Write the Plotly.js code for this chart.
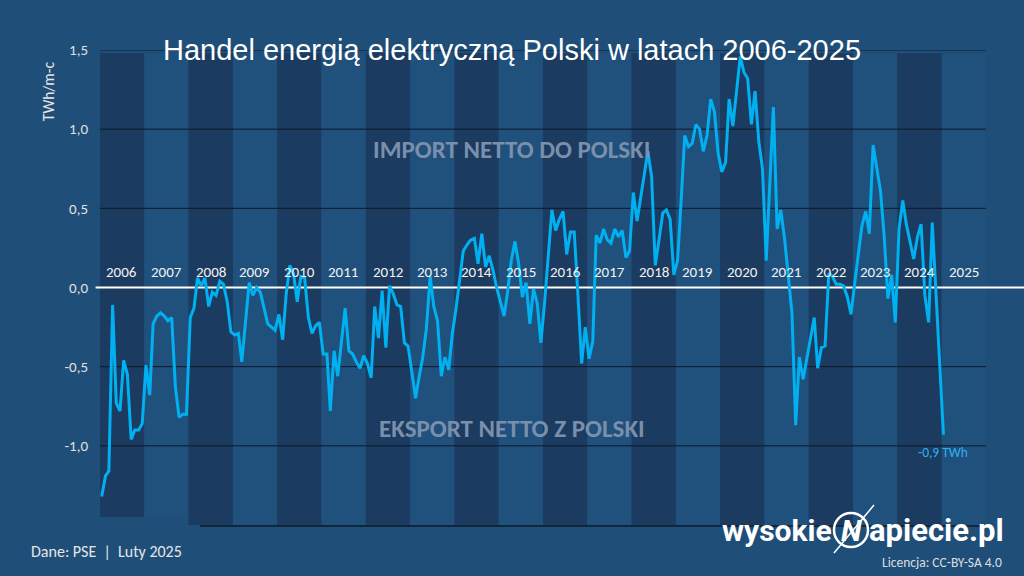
<!DOCTYPE html>
<html>
<head>
<meta charset="utf-8">
<script src="https://cdn.plot.ly/plotly-3.0.1.min.js"></script>
<style>
  html, body { margin: 0; padding: 0; background: #1f4e79; }
  #chart { width: 1024px; height: 576px; }
</style>
</head>
<body>
<div id="chart"></div>
<script>
// Monthly net electricity trade of Poland, TWh per month (Jan 2006 .. Jan 2025)
const net2006 = [-1.32, -1.19, -1.16, -0.11, -0.73, -0.78, -0.46, -0.55, -0.96, -0.90, -0.90, -0.86];
const net2007 = [-0.49, -0.68, -0.23, -0.18, -0.16, -0.18, -0.21, -0.19, -0.63, -0.82, -0.80, -0.80];
const net2008 = [-0.19, -0.13, 0.06, 0.01, 0.06, -0.12, -0.03, -0.05, 0.04, 0.02, -0.09, -0.28];
const net2009 = [-0.30, -0.29, -0.47, -0.20, 0.03, -0.05, 0.00, -0.03, -0.14, -0.23, -0.25, -0.27];
const net2010 = [-0.17, -0.33, -0.05, 0.14, 0.09, -0.09, 0.07, 0.06, -0.19, -0.29, -0.24, -0.22];
const net2011 = [-0.42, -0.42, -0.78, -0.40, -0.56, -0.34, -0.13, -0.40, -0.42, -0.47, -0.51, -0.43];
const net2012 = [-0.48, -0.57, -0.12, -0.32, -0.02, -0.38, 0.01, -0.04, -0.11, -0.12, -0.35, -0.37];
const net2013 = [-0.54, -0.70, -0.57, -0.44, -0.26, 0.07, -0.12, -0.21, -0.56, -0.44, -0.52, -0.29];
const net2014 = [-0.13, 0.08, 0.23, 0.27, 0.30, 0.31, 0.15, 0.34, 0.13, 0.20, 0.11, 0.00];
const net2015 = [-0.10, -0.18, -0.03, 0.17, 0.29, 0.15, -0.06, 0.03, -0.23, -0.01, -0.10, -0.35];
const net2016 = [-0.09, 0.20, 0.49, 0.36, 0.43, 0.48, 0.21, 0.35, 0.35, -0.04, -0.48, -0.25];
const net2017 = [-0.45, -0.34, 0.33, 0.28, 0.37, 0.30, 0.28, 0.37, 0.32, 0.36, 0.19, 0.23];
const net2018 = [0.60, 0.42, 0.55, 0.71, 0.86, 0.70, 0.14, 0.30, 0.47, 0.49, 0.43, 0.08];
const net2019 = [0.17, 0.57, 0.96, 0.89, 0.91, 1.03, 1.00, 0.86, 0.96, 1.19, 1.11, 0.85];
const net2020 = [0.73, 0.79, 1.19, 1.02, 1.24, 1.46, 1.36, 1.32, 1.03, 1.24, 0.92, 0.75];
const net2021 = [0.17, 0.65, 1.14, 0.37, 0.49, 0.31, 0.08, -0.16, -0.87, -0.44, -0.58, -0.45];
const net2022 = [-0.30, -0.19, -0.51, -0.38, -0.37, 0.09, 0.07, 0.02, 0.02, 0.01, -0.06, -0.17];
const net2023 = [0.03, 0.23, 0.39, 0.48, 0.34, 0.90, 0.76, 0.61, 0.32, -0.07, 0.08, -0.22];
const net2024 = [0.37, 0.55, 0.40, 0.28, 0.18, 0.32, 0.40, -0.05, -0.22, 0.41, -0.05, -0.50];
const net2025 = [-0.93];

const years = ['2006','2007','2008','2009','2010','2011','2012','2013','2014','2015',
               '2016','2017','2018','2019','2020','2021','2022','2023','2024','2025'];
const yTickVals = [1.5, 1.0, 0.5, 0.0, -0.5, -1.0];
const yTickText = ['1,5', '1,0', '0,5', '0,0', '-0,5', '-1,0'];
const gridVals = [1.5, 1.0, 0.5, -0.5, -1.0];
const lastLabel = '-0,9 TWh';

const perYear = [net2006, net2007, net2008, net2009, net2010, net2011, net2012, net2013, net2014, net2015,
                 net2016, net2017, net2018, net2019, net2020, net2021, net2022, net2023, net2024, net2025];

const xs = [], ys = [];
perYear.forEach((arr, yi) => {
  arr.forEach((v, m) => {
    const mm = String(m + 1).padStart(2, '0');
    xs.push(years[yi] + '-' + mm + '-15');
    ys.push(v);
  });
});

const X0 = years[0] + '-01-01';
const X1 = (parseInt(years[years.length - 1]) + 1) + '-01-01';
const FONT = 'Carlito, Lato, "Open Sans", sans-serif';
const shapes = [];
const annotations = [];

// year bands
years.forEach((y, i) => {
  shapes.push({
    type: 'rect', layer: 'below', xref: 'x', yref: 'y',
    x0: y + '-01-01', x1: (parseInt(y) + 1) + '-01-01',
    y0: i < 2 ? -1.45 : -1.5, y1: 1.48,
    fillcolor: i % 2 === 0 ? '#1b3b60' : '#20507c', line: { width: 0 }
  });
  annotations.push({
    xref: 'x', yref: 'y', x: y + '-07-01', y: 0.095,
    text: y, showarrow: false,
    font: { family: FONT, size: 15, color: '#f2f2f2' }
  });
});

// gridlines (same layer as the bands, drawn after them)
gridVals.forEach(g => {
  shapes.push({
    type: 'line', layer: 'below', xref: 'x', yref: 'y',
    x0: X0, x1: X1, y0: g, y1: g,
    line: { color: '#0d1a2a', width: 1 }
  });
});
// bottom gridline (partial), on the lower edge of the plot
shapes.push({
  type: 'line', layer: 'above', xref: 'paper', yref: 'paper',
  x0: 0.113, x1: 1, y0: -0.002, y1: -0.002,
  line: { color: '#0d1a2a', width: 1.5 }
});
// zero line: inside plot + outside parts
shapes.push({
  type: 'line', layer: 'below', xref: 'x', yref: 'y',
  x0: X0, x1: X1, y0: 0, y1: 0,
  line: { color: '#ffffff', width: 2 }
});
shapes.push({
  type: 'line', layer: 'below', xref: 'paper', yref: 'y',
  x0: -0.005, x1: 0, y0: 0, y1: 0,
  line: { color: '#ffffff', width: 2 }
});
shapes.push({
  type: 'line', layer: 'below', xref: 'paper', yref: 'y',
  x0: 1, x1: 1.05, y0: 0, y1: 0,
  line: { color: '#ffffff', width: 2 }
});

// logo circle + bolt
shapes.push({
  type: 'circle', xref: 'paper', yref: 'paper',
  x0: (834 - 100) / 886, x1: (868 - 100) / 886,
  y0: (525 - 547) / 475, y1: (525 - 513) / 475,
  line: { color: '#ffffff', width: 2.5 }
});
shapes.push({
  type: 'line', xref: 'paper', yref: 'paper',
  x0: (874 - 100) / 886, x1: (834 - 100) / 886,
  y0: (525 - 505) / 475, y1: (525 - 553) / 475,
  line: { color: '#ffffff', width: 1.5 }
});

annotations.push(
  { xref: 'paper', yref: 'y', x: 0.465, y: 0.87, text: 'IMPORT NETTO DO POLSKI', showarrow: false,
    font: { family: FONT, size: 25, color: '#7a8fab', weight: 'bold' } },
  { xref: 'paper', yref: 'y', x: 0.465, y: -0.89, text: 'EKSPORT NETTO Z POLSKI', showarrow: false,
    font: { family: FONT, size: 25, color: '#7a8fab', weight: 'bold' } },
  { xref: 'x', yref: 'y', x: xs[xs.length - 1], y: -1.04, text: lastLabel, showarrow: false,
    font: { family: FONT, size: 13.5, color: '#2fb2ee' } },
  { xref: 'paper', yref: 'y', x: (48 - 100) / 886, y: 1.24, text: 'TWh/m-c', textangle: -90, showarrow: false,
    xanchor: 'center', yanchor: 'middle',
    font: { family: FONT, size: 15.5, color: '#e6e6e6' } },
  { xref: 'paper', yref: 'paper', x: (29 - 100) / 886, y: (525 - 551) / 475, xanchor: 'left', yanchor: 'middle',
    text: 'Dane: PSE  |  Luty 2025', showarrow: false,
    font: { family: FONT, size: 16, color: '#e6e6e6' } },
  { xref: 'paper', yref: 'paper', x: (834 - 100) / 886, y: (525 - 530) / 475, xanchor: 'right', yanchor: 'middle',
    text: 'wysokie', showarrow: false,
    font: { family: 'Roboto, sans-serif', size: 30, color: '#ffffff', weight: 'bold' } },
  { xref: 'paper', yref: 'paper', x: (851 - 100) / 886, y: (525 - 530) / 475, xanchor: 'center', yanchor: 'middle',
    text: '<i>N</i>', showarrow: false,
    font: { family: 'Roboto, sans-serif', size: 30, color: '#ffffff', weight: 'bold' } },
  { xref: 'paper', yref: 'paper', x: (867 - 100) / 886, y: (525 - 530) / 475, xanchor: 'left', yanchor: 'middle',
    text: 'apiecie.pl', showarrow: false,
    font: { family: 'Roboto, sans-serif', size: 31, color: '#ffffff', weight: 'bold' } },
  { xref: 'paper', yref: 'paper', x: (1004 - 100) / 886, y: (525 - 562) / 475, xanchor: 'right', yanchor: 'middle',
    text: 'Licencja: CC-BY-SA 4.0', showarrow: false,
    font: { family: FONT, size: 13.5, color: '#dddddd' } }
);

const trace = {
  x: xs, y: ys, type: 'scatter', mode: 'lines',
  line: { color: '#00b0f0', width: 3 },
  hoverinfo: 'skip'
};

const layout = {
  width: 1024, height: 576,
  paper_bgcolor: '#1f4e79', plot_bgcolor: 'rgba(0,0,0,0)',
  margin: { l: 100, r: 38, t: 50, b: 51 },
  showlegend: false,
  title: {
    text: 'Handel energią elektryczną Polski w latach 2006-2025',
    x: 0.5, xref: 'container', xanchor: 'center',
    y: 1 - 50 / 576, yref: 'container', yanchor: 'middle',
    font: { family: '"Liberation Sans", Arial, sans-serif', size: 29, color: '#ffffff' }
  },
  xaxis: {
    type: 'date', range: [X0, X1],
    showgrid: false, zeroline: false, showticklabels: false, showline: false, ticks: ''
  },
  yaxis: {
    range: [-1.5, 1.5], showgrid: false, zeroline: false, showline: false,
    tickvals: yTickVals, ticktext: yTickText, ticks: '', ticklabelstandoff: 11,
    tickfont: { family: FONT, size: 15, color: '#e0e0e0' }
  },
  shapes: shapes,
  annotations: annotations
};

Plotly.newPlot('chart', [trace], layout, { staticPlot: true, displayModeBar: false });
</script>
</body>
</html>
